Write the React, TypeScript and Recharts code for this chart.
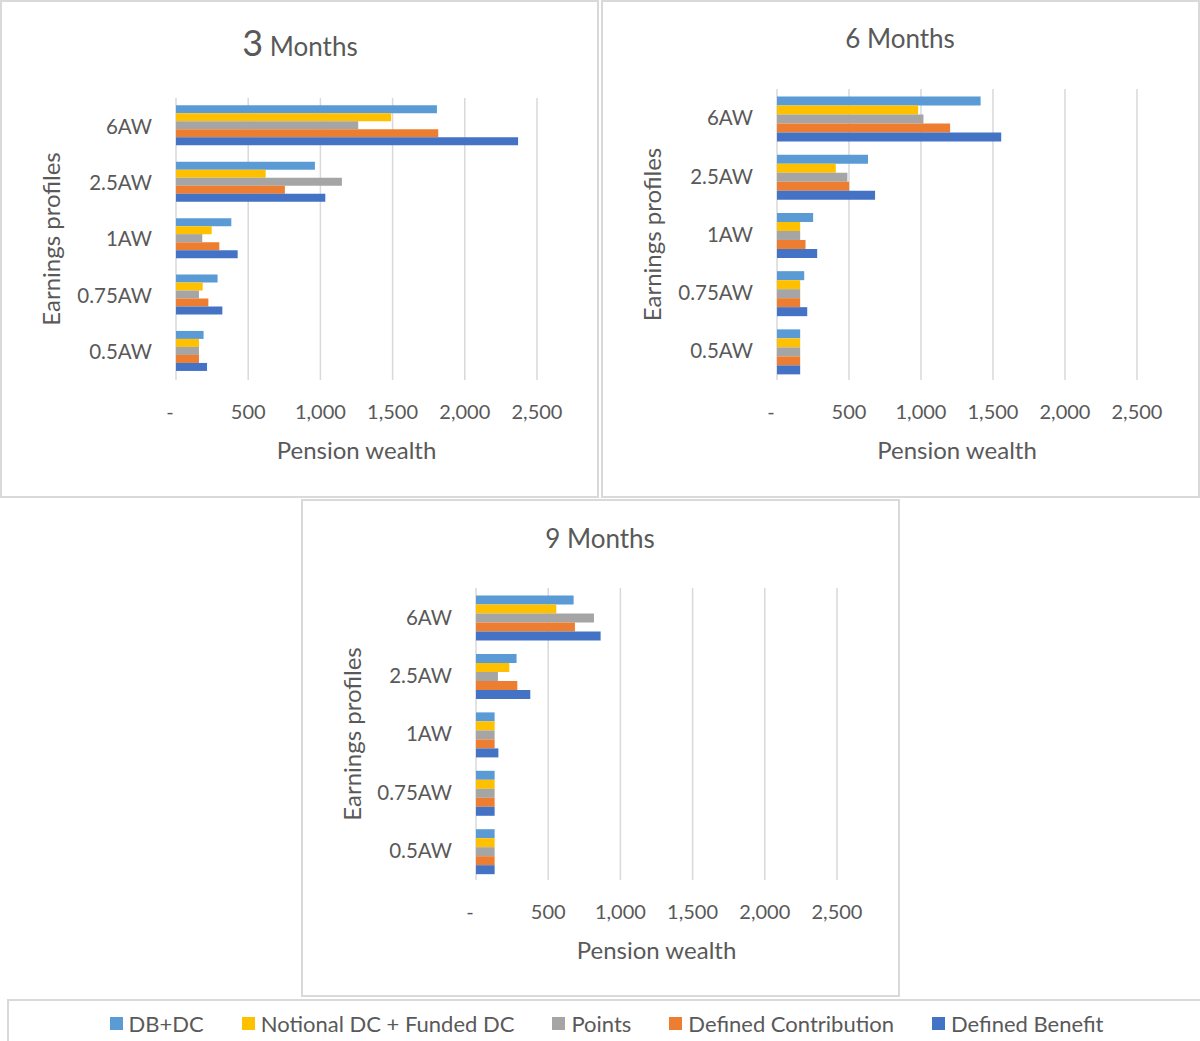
import React from "react";
import { BarChart, Bar, XAxis, YAxis, CartesianGrid } from "recharts";

// earnings profiles (top to bottom)
const profiles = ["6AW", "2.5AW", "1AW", "0.75AW", "0.5AW"];

const seriesKeys = ["dbdc", "notional", "points", "dc", "db"];
const seriesNames = ["DB+DC", "Notional DC + Funded DC", "Points", "Defined Contribution", "Defined Benefit"];
const seriesColors = ["#5B9BD5", "#FFC000", "#A5A5A5", "#ED7D31", "#4472C4"];

const xTicks = [0, 500, 1000, 1500, 2000, 2500];

// 3 months
const dbdc3 = [1807, 962, 383, 288, 191];
const notional3 = [1490, 621, 247, 185, 159];
const points3 = [1262, 1149, 182, 159, 159];
const dc3 = [1816, 754, 300, 224, 159];
const db3 = [2369, 1034, 427, 321, 215];

// 6 months
const dbdc6 = [1414, 632, 251, 189, 161];
const notional6 = [980, 408, 161, 161, 161];
const points6 = [1017, 489, 161, 161, 161];
const dc6 = [1202, 501, 198, 161, 161];
const db6 = [1557, 681, 279, 210, 161];

// 9 months
const dbdc9 = [676, 281, 129, 129, 129];
const notional9 = [556, 231, 129, 129, 129];
const points9 = [817, 152, 129, 129, 129];
const dc9 = [685, 286, 129, 129, 129];
const db9 = [863, 376, 155, 129, 129];

const buildRows = (dbdc: number[], notional: number[], points: number[], dc: number[], db: number[]) =>
  profiles.map((profile, i) => ({
    profile,
    dbdc: dbdc[i],
    notional: notional[i],
    points: points[i],
    dc: dc[i],
    db: db[i],
  }));

const TEXT = "#595959";
const GRID = "#d9d9d9";
const W = 599;
const H = 498;

const XTick = (props: any) => {
  const { x, y, payload } = props;
  const v = payload.value as number;
  const label = v === 0 ? "-" : v.toLocaleString("en-US");
  return (
    <text x={v === 0 ? x - 6 : x} y={y + 39} textAnchor="middle" fill={TEXT} fontSize={20}>
      {label}
    </text>
  );
};

const YTick = (props: any) => {
  const { x, y, payload } = props;
  return (
    <text x={x - 24} y={y} dy="0.36em" textAnchor="end" fill={TEXT} fontSize={20.5}>
      {payload.value}
    </text>
  );
};

type PlotBox = { left: number; right: number; top: number; bottom: number };

const Panel = ({
  left,
  top,
  title,
  rows,
  plot,
}: {
  left: number;
  top: number;
  title: React.ReactNode;
  rows: any[];
  plot: PlotBox;
}) => {
  const cx = (plot.left + plot.right) / 2;
  const cy = (plot.top + plot.bottom) / 2;
  return (
    <div style={{ position: "absolute", left, top, width: W, height: H }}>
      <div
        style={{
          position: "absolute",
          left: 0,
          top: 0,
          width: W,
          height: H,
          border: `2px solid ${GRID}`,
          boxSizing: "border-box",
        }}
      />
      <div style={{ position: "absolute", left: 0, top: 0 }}>
        <BarChart
          width={W}
          height={H}
          layout="vertical"
          data={rows}
          margin={{ top: plot.top, right: W - plot.right, bottom: H - plot.bottom - 40, left: 0 }}
          barCategoryGap="13%"
          barGap={0}
        >
          <CartesianGrid horizontal={false} stroke={GRID} strokeWidth={1.5} />
          <XAxis
            type="number"
            domain={[0, 2500]}
            ticks={xTicks}
            interval={0}
            height={40}
            axisLine={false}
            tickLine={false}
            tickSize={0}
            tickMargin={0}
            tick={XTick}
          />
          <YAxis
            type="category"
            dataKey="profile"
            width={plot.left}
            interval={0}
            axisLine={false}
            tickLine={false}
            tickSize={0}
            tickMargin={0}
            tick={YTick}
          />
          {seriesKeys.map((k, i) => (
            <Bar key={k} dataKey={k} name={seriesNames[i]} fill={seriesColors[i]} isAnimationActive={false} />
          ))}
        </BarChart>
      </div>
      <svg
        width={W}
        height={H}
        style={{ position: "absolute", left: 0, top: 0, pointerEvents: "none" }}
      >
        {title}
        <text x={cx} y={plot.bottom + 79} textAnchor="middle" fill={TEXT} fontSize={24}>
          Pension wealth
        </text>
        <text
          x={51}
          y={cy}
          dy="0.36em"
          textAnchor="middle"
          fill={TEXT}
          fontSize={24}
          transform={`rotate(-90, 51, ${cy})`}
        >
          Earnings profiles
        </text>
      </svg>
    </div>
  );
};

const App = () => {
  const rows3 = buildRows(dbdc3, notional3, points3, dc3, db3);
  const rows6 = buildRows(dbdc6, notional6, points6, dc6, db6);
  const rows9 = buildRows(dbdc9, notional9, points9, dc9, db9);

  return (
    <div
      style={{
        position: "fixed",
        left: 0,
        top: 0,
        width: 1200,
        height: 1041,
        overflow: "hidden",
        background: "#fff",
        fontFamily: "Lato, 'Open Sans', sans-serif",
      }}
    >
      <Panel
        left={0}
        top={0}
        rows={rows3}
        plot={{ left: 176, right: 537, top: 98, bottom: 380 }}
        title={
          <text x={300} y={56} textAnchor="middle" fill={TEXT}>
            <tspan fontSize={36}>3</tspan>
            <tspan fontSize={26}> Months</tspan>
          </text>
        }
      />
      <Panel
        left={601}
        top={0}
        rows={rows6}
        plot={{ left: 176, right: 536, top: 89, bottom: 380 }}
        title={
          <text x={299} y={48} textAnchor="middle" fill={TEXT} fontSize={26}>
            6 Months
          </text>
        }
      />
      <Panel
        left={301}
        top={499}
        rows={rows9}
        plot={{ left: 175, right: 536, top: 89, bottom: 381 }}
        title={
          <text x={299} y={49} textAnchor="middle" fill={TEXT} fontSize={26}>
            9 Months
          </text>
        }
      />
      <div
        style={{
          position: "absolute",
          left: 7,
          top: 999,
          width: 1195,
          height: 60,
          border: `2px solid ${GRID}`,
          boxSizing: "border-box",
        }}
      >
        <div
          style={{
            position: "absolute",
            left: 0,
            top: 0,
            width: "100%",
            height: 44,
            display: "flex",
            justifyContent: "center",
            alignItems: "center",
            gap: 38,
            color: TEXT,
            fontSize: 22,
            paddingLeft: 4,
            boxSizing: "border-box",
          }}
        >
          {seriesNames.map((n, i) => (
            <div key={n} style={{ display: "flex", alignItems: "center", gap: 6 }}>
              <div style={{ width: 13, height: 13, background: seriesColors[i] }} />
              <span>{n}</span>
            </div>
          ))}
        </div>
      </div>
    </div>
  );
};

export default App;
